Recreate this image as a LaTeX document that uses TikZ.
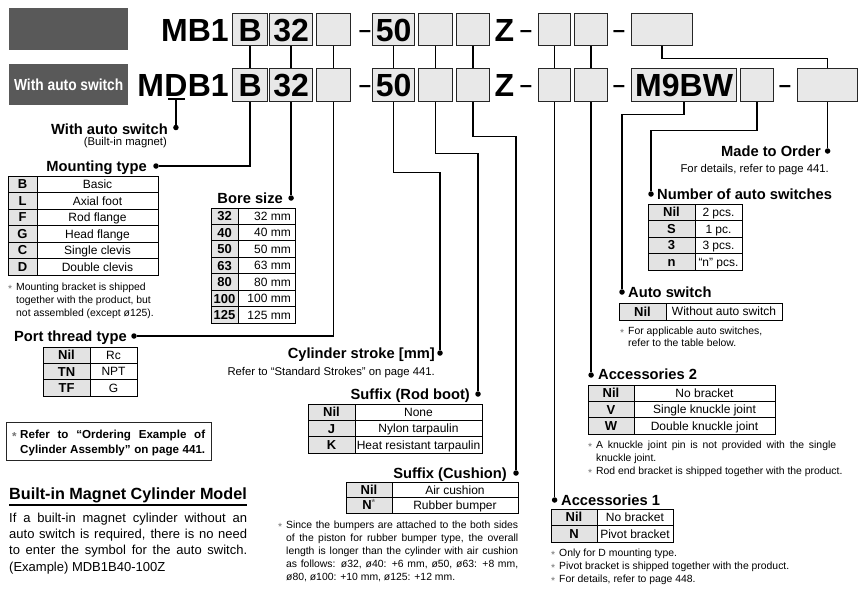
\documentclass[tikz,border=0pt]{standalone}
\usepackage{fontspec}
\setmainfont{Liberation Sans}
\usepackage{graphicx}
\newcommand\nast{\makebox[8pt][l]{\raisebox{-0.2em}{\color{black!55}*}}}
\newcommand\nstar{\textsuperscript{\color{black!55}*}}
% #1 name, #2 x0, #3 y0, #4 xsplit, #5 x1, #6 row height, #7 rows, #8 value x, #9 value anchor
\newcommand\codetable[9]{%
  \foreach \ck/\cv [count=\ci] in {#7}{%
    \pgfmathsetmacro\cya{#3+(\ci-1)*#6}%
    \pgfmathsetmacro\cyb{#3+\ci*#6}%
    \pgfmathsetmacro\cym{#3+(\ci-0.5)*#6}%
    \draw[keycell] (#2,\cya) rectangle (#4,\cyb);
    \draw[valcell] (#4,\cya) rectangle (#5,\cyb);
    \node[keytext] (#1k\ci) at ({(#2+#4)/2},\cym) {\ck};
    \node[valtext, anchor=#9] (#1v\ci) at (#8,\cym) {\cv};
  }%
}
\tikzset{
  codebox/.style={draw=black!85, line width=1.2pt, fill=black!9, inner sep=0pt,
    font=\fontsize{32}{32}\selectfont\bfseries, text height=22.9pt, text depth=0pt, anchor=north west},
  bigtext/.style={font=\fontsize{32}{32}\selectfont\bfseries, inner sep=0pt},
  dashtext/.style={font=\fontsize{22}{22}\selectfont\bfseries, inner sep=0pt, anchor=base},
  conn/.style={line width=1.3pt, black},
  dotc/.style={circle, fill=black, inner sep=0pt, minimum size=5.5pt},
  head/.style={font=\fontsize{14.7}{15}\selectfont\bfseries, inner sep=0pt},
  sub/.style={font=\fontsize{11.3}{12}\selectfont, inner sep=0pt},
  note/.style={font=\fontsize{10.4}{12}\selectfont, inner sep=0pt, anchor=base west},
  para/.style={font=\fontsize{13}{15}\selectfont, inner sep=0pt, anchor=base west},
  refb/.style={font=\fontsize{11.6}{12}\selectfont\bfseries, inner sep=0pt, anchor=base west},
  keycell/.style={fill=black!11, draw=black, line width=0.8pt},
  valcell/.style={fill=white, draw=black, line width=0.8pt},
  keytext/.style={font=\fontsize{13}{13}\selectfont\bfseries, inner sep=0pt, text height=9.3pt, text depth=0pt},
  valtext/.style={font=\fontsize{12}{12}\selectfont, inner sep=0pt, text height=8.6pt, text depth=0pt},
  darkbox/.style={fill=black!65, draw=none, anchor=north west, minimum width=119pt, inner sep=0pt},
}
\begin{document}
\begin{tikzpicture}[x=1pt,y=-1pt]
\useasboundingbox (0,0) rectangle (865,590);
\fill[white] (0,0) rectangle (865,590);

% dark label boxes
\node[darkbox, minimum height=42pt] (dk1) at (9,8) {};
\node[darkbox, minimum height=41pt] (dk2) at (9,64) {};
\node[font=\fontsize{16}{16}\selectfont\bfseries, text=white, inner sep=0pt] (dk2t) at (dk2.center) {\scalebox{0.86}[1]{With auto switch}};

% row 1
\node[bigtext, anchor=base east] (mb1) at (229,41) {MB1};
\node[codebox, minimum width=35pt, minimum height=32pt] (r1b1) at (232,13) {B};
\node[codebox, minimum width=43pt, minimum height=32pt] (r1b2) at (269,13) {32};
\node[codebox, minimum width=34pt, minimum height=32pt] (r1b3) at (316,13) {};
\node[dashtext] (r1d1) at (365,37) {–};
\node[codebox, minimum width=42pt, minimum height=32pt] (r1b4) at (372,13) {50};
\node[codebox, minimum width=34pt, minimum height=32pt] (r1b5) at (418,13) {};
\node[codebox, minimum width=33pt, minimum height=32pt] (r1b6) at (456,13) {};
\node[bigtext, anchor=base] (z1) at (504.5,41) {Z};
\node[dashtext] (r1d2) at (526,37) {–};
\node[codebox, minimum width=32pt, minimum height=32pt] (r1b7) at (538,13) {};
\node[codebox, minimum width=33pt, minimum height=32pt] (r1b8) at (574,13) {};
\node[dashtext] (r1d3) at (619,37) {–};
\node[codebox, minimum width=61pt, minimum height=32pt] (r1b9) at (631,13) {};

% row 2
\node[bigtext, anchor=base east] (mdB) at (229,96.5) {B1};
\node[bigtext, anchor=base east] (mdD) at (mdB.base west) {D};
\node[bigtext, anchor=base east] (mdM) at (mdD.base west) {M};
\node[codebox, minimum width=35pt, minimum height=33pt] (r2b1) at (232,68) {B};
\node[codebox, minimum width=43pt, minimum height=33pt] (r2b2) at (269,68) {32};
\node[codebox, minimum width=34pt, minimum height=33pt] (r2b3) at (316,68) {};
\node[dashtext] (r2d1) at (365,92) {–};
\node[codebox, minimum width=42pt, minimum height=33pt] (r2b4) at (372,68) {50};
\node[codebox, minimum width=34pt, minimum height=33pt] (r2b5) at (418,68) {};
\node[codebox, minimum width=33pt, minimum height=33pt] (r2b6) at (456,68) {};
\node[bigtext, anchor=base] (z2) at (504.5,96.5) {Z};
\node[dashtext] (r2d2) at (526,92) {–};
\node[codebox, minimum width=32pt, minimum height=33pt] (r2b7) at (538,68) {};
\node[codebox, minimum width=33pt, minimum height=33pt] (r2b8) at (574,68) {};
\node[dashtext] (r2d3) at (619,92) {–};
\node[codebox, minimum width=105pt, minimum height=33pt] (r2b9) at (631,68) {M9BW};
\node[codebox, minimum width=33pt, minimum height=33pt] (r2b10) at (740,68) {};
\node[dashtext] (r2d4) at (785,92) {–};
\node[codebox, minimum width=60pt, minimum height=33pt] (r2b11) at (797,68) {};

% connectors between rows
\foreach \i in {1,...,8} \draw[conn] (r1b\i.south) -- (r2b\i.north);
\draw[conn] (r1b9.south) -- ++(0,12) -| (r2b11.north);

% dots
\node[dotc] (dWith) at ([yshift=-31pt]mdD.base) {};
\node[dotc] (dMount) at (156,166) {};
\node[dotc] (dBore) at (r2b2.south |- 0,198) {};
\node[dotc] (dPort) at (134,336) {};
\node[dotc] (dStroke) at (440,353) {};
\node[dotc] (dRod) at (478,394) {};
\node[dotc] (dCush) at (516,473) {};
\node[dotc] (dAcc1) at (r2b7.south |- 0,500) {};
\node[dotc] (dAcc2) at (r2b8.south |- 0,375) {};
\node[dotc] (dAuto) at (622,292) {};
\node[dotc] (dNum) at (651,194) {};
\node[dotc] (dMTO) at (r2b11.south |- 0,151) {};

% connectors below
\draw[conn] ([xshift=4pt,yshift=-2.5pt]mdD.base west) -- ([xshift=-3pt,yshift=-2.5pt]mdD.base east);
\draw[conn] ([yshift=-2.5pt]mdD.base) -- (dWith);
\draw[conn] (r2b1.south) |- (dMount);
\draw[conn] (r2b2.south) -- (dBore);
\draw[conn] (r2b3.south) |- (dPort);
\draw[conn] (r2b4.south) -- ++(0,70) -| (dStroke);
\draw[conn] (r2b5.south) -- ++(0,51) -| (dRod);
\draw[conn] (r2b6.south) -- ++(0,34) -| (dCush);
\draw[conn] (r2b7.south) -- (dAcc1);
\draw[conn] (r2b8.south) -- (dAcc2);
\draw[conn] (r2b9.south) -- ++(0,12) -| (dAuto);
\draw[conn] (r2b10.south) -- ++(0,28) -| (dNum);
\draw[conn] (r2b11.south) -- (dMTO);

% labels
\node[head, anchor=base east] (lWith) at (168,134) {With auto switch};
\node[sub, anchor=base east] (lWith2) at (167,145) {(Built-in magnet)};
\node[head, anchor=base east] (lMount) at (147,171) {Mounting type};
\node[head, anchor=base east] (lBore) at (283,203) {Bore size};
\node[head, anchor=base east] (lPort) at (127,341) {Port thread type};
\node[head, anchor=base east] (lStroke) at (435,358) {Cylinder stroke [mm]};
\node[sub, anchor=base east] (lStroke2) at (435,375) {Refer to “Standard Strokes” on page 441.};
\node[head, anchor=base east] (lRod) at (470,399) {Suffix (Rod boot)};
\node[head, anchor=base east] (lCush) at (507,478) {Suffix (Cushion)};
\node[head, anchor=base east] (lMTO) at (821,156) {Made to Order};
\node[sub, anchor=base east] (lMTO2) at (829,172) {For details, refer to page 441.};
\node[head, anchor=base west] (lNum) at (657,199) {Number of auto switches};
\node[head, anchor=base west] (lAuto) at (628,297) {Auto switch};
\node[head, anchor=base west] (lAcc2) at (598,379) {Accessories 2};
\node[head, anchor=base west] (lAcc1) at (561,505) {Accessories 1};

% tables
\codetable{mt}{8}{176}{37}{158}{16.5}{B/Basic, L/Axial foot, F/Rod flange, G/Head flange, C/Single clevis, D/Double clevis}{97.5}{center}
\codetable{bs}{211}{208}{238}{295}{16.43}{32/32 mm, 40/40 mm, 50/50 mm, 63/63 mm, 80/80 mm, 100/100 mm, 125/125 mm}{291}{east}
\codetable{pt}{43}{347}{90}{137}{16.33}{Nil/Rc, TN/NPT, TF/G}{113.5}{center}
\codetable{rb}{308}{404}{355}{482}{16.33}{Nil/None, J/Nylon tarpaulin, K/Heat resistant tarpaulin}{418.5}{center}
\codetable{cu}{346}{482}{392}{518}{15.5}{Nil/Air cushion, N\nstar/Rubber bumper}{455}{center}
\codetable{na}{648}{204}{695}{742}{16.5}{Nil/2 pcs., S/1 pc., 3/3 pcs., n/“n” pcs.}{718.5}{center}
\codetable{as}{619}{303}{666}{782}{17}{Nil/Without auto switch}{724}{center}
\codetable{a2}{588}{385}{634}{775}{16.33}{Nil/No bracket, V/Single knuckle joint, W/Double knuckle joint}{704.5}{center}
\codetable{a1}{551}{509}{597}{673}{16.5}{Nil/No bracket, N/Pivot bracket}{635}{center}

% notes
\node[note] (nm1) at (8,290) {\nast Mounting bracket is shipped};
\node[note] (nm2) at (16,303) {together with the product, but};
\node[note] (nm3) at (16,316) {not assembled (except ø125).};

\node[note] (na1) at (620,334) {\nast For applicable auto switches,};
\node[note] (na2) at (628,346) {refer to the table below.};

\node[note] (nb1) at (588,448) {\nast\makebox[240pt][s]{A knuckle joint pin is not provided with the single}};
\node[note] (nb2) at (596,461) {knuckle joint.};
\node[note] (nb3) at (588,474) {\nast Rod end bracket is shipped together with the product.};

\node[note] (nc1) at (551,556) {\nast Only for D mounting type.};
\node[note] (nc2) at (551,569) {\nast Pivot bracket is shipped together with the product.};
\node[note] (nc3) at (551,582) {\nast For details, refer to page 448.};

\node[note] (nd1) at (278,528) {\nast\makebox[232pt][s]{Since the bumpers are attached to the both sides}};
\node[note] (nd2) at (286,541) {\makebox[232pt][s]{of the piston for rubber bumper type, the overall}};
\node[note] (nd3) at (286,554) {\makebox[232pt][s]{length is longer than the cylinder with air cushion}};
\node[note] (nd4) at (286,567) {\makebox[232pt][s]{as follows: ø32, ø40: +6 mm, ø50, ø63: +8 mm,}};
\node[note] (nd5) at (286,580) {ø80, ø100: +10 mm, ø125: +12 mm.};

% refer box
\node[draw=black!85, line width=1.2pt, minimum width=205pt, minimum height=38pt, anchor=north west, inner sep=0pt] (refbox) at (6,422) {};
\node[refb] (ref1) at (12,438.5) {\nast\makebox[185pt][s]{Refer to “Ordering Example of}};
\node[refb] (ref2) at (20,453.5) {\makebox[185pt][s]{Cylinder Assembly” on page 441.}};

% built-in magnet section
\node[font=\fontsize{16.2}{17}\selectfont\bfseries, inner sep=0pt, anchor=base west] (bimh) at (9,499) {Built-in Magnet Cylinder Model};
\draw[line width=1.6pt] (9,505) -- (247,505);
\node[para] (p1) at (9,522) {\makebox[238pt][s]{If a built-in magnet cylinder without an}};
\node[para] (p2) at (9,538.3) {\makebox[238pt][s]{auto switch is required, there is no need}};
\node[para] (p3) at (9,554.6) {\makebox[238pt][s]{to enter the symbol for the auto switch.}};
\node[para] (p4) at (9,571) {(Example) MDB1B40-100Z};
\end{tikzpicture}
\end{document}
